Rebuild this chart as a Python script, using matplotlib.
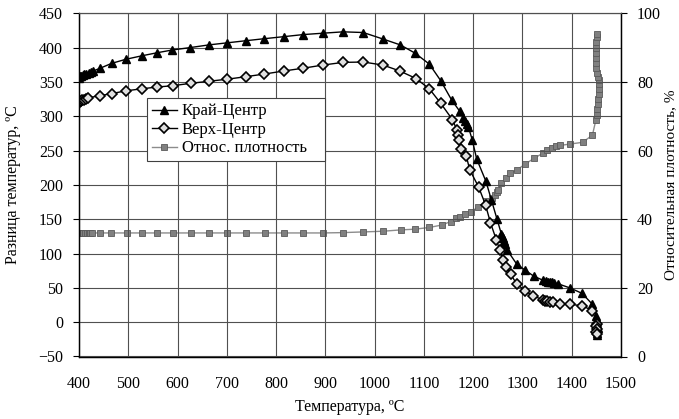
import matplotlib
matplotlib.use("Agg")
import matplotlib.pyplot as plt
from matplotlib.lines import Line2D

# ---- data ----
edge_x = [400, 402, 405, 408, 411, 415, 420, 425, 429, 443, 466, 495, 527, 559, 589, 625, 664, 701, 738, 776,
          816, 855, 895, 936, 977, 1017, 1052, 1082, 1111, 1134, 1156, 1173, 1180, 1184, 1187, 1190, 1198, 1207,
          1226, 1237, 1248, 1257, 1259, 1261, 1263, 1265, 1269, 1288, 1305, 1323, 1342, 1347, 1352, 1356, 1360,
          1365, 1372, 1396, 1421, 1442, 1450, 1452, 1451, 1453, 1450, 1452, 1451]
edge_y = [356, 358, 359, 360, 361, 362, 363, 364, 366, 370, 377, 383, 388, 392.6, 396.5, 400, 404, 407, 410, 413,
          416, 419, 421, 423, 422, 412.5, 404, 392, 376, 352, 324, 307, 298, 293, 289, 285, 266, 238,
          205, 178, 151, 129, 126, 122, 118, 114, 105, 85, 76, 67, 61, 60, 59, 58.5, 58,
          57, 56, 50, 42, 26, 9, 3, -3, -8, -12, -16, -19]

top_x = [399, 401, 404, 407, 410, 414, 419, 443, 466, 495, 527, 559, 590, 627, 664, 701, 738, 776, 816, 855,
         895, 936, 977, 1017, 1051, 1084, 1111, 1134, 1158, 1167, 1170, 1172, 1176, 1186, 1193, 1211, 1225, 1235,
         1247, 1254, 1261, 1266, 1276, 1288, 1305, 1322, 1341, 1345, 1350, 1355, 1362, 1376, 1396, 1421, 1442,
         1451, 1450, 1452, 1450, 1451]
top_y = [320, 321, 322, 323, 324, 325.5, 327, 330, 333, 337, 340, 342.6, 344.5, 348, 351, 354, 357.6, 361.5, 366, 370,
         374.6, 378.5, 379, 374.6, 366, 355, 340, 319, 295, 280, 273, 265, 253, 242, 222, 197, 171, 145,
         120, 105, 90, 81, 70, 56, 46, 38, 33, 31.5, 30.5, 30, 29, 27, 26, 24, 17,
         -2, -6, -10, -14, -17]

dens_x = [400, 405, 409, 413, 416, 420, 423, 427, 443, 465, 497, 527, 558, 590, 627, 664, 701, 738, 777, 816,
          855, 895, 936, 977, 1017, 1054, 1082, 1111, 1136, 1154, 1166, 1173, 1183, 1195, 1210, 1226, 1239, 1244,
          1248, 1251, 1257, 1266, 1274, 1288, 1305, 1323, 1341, 1349, 1359, 1368, 1377, 1396, 1422, 1442,
          1449, 1451, 1452, 1453, 1454, 1455, 1456, 1456, 1455, 1453, 1451, 1450, 1449, 1449, 1449, 1450, 1450,
          1451, 1451]
dens_y = [36, 36, 36, 36, 36, 36, 36, 36, 36, 36, 36, 36, 36, 36, 36, 36, 36, 36, 36, 36,
          36, 36, 36.1, 36.3, 36.5, 36.9, 37.1, 37.6, 38.3, 39.3, 40.3, 40.7, 41.4, 42.2, 43.5, 45.3, 46.3, 47.2,
          47.8, 48.5, 50.5, 51.9, 53.4, 54.3, 56, 57.7, 59.2, 60.2, 60.8, 61.2, 61.5, 61.9, 62.4, 64.5,
          68.9, 70.5, 72, 73.5, 75, 76.5, 78, 79.5, 80.5, 81.5, 82.5, 84, 85.5, 87, 88.5, 90, 91.5,
          93, 94]

xticks = list(range(400, 1501, 100))
yticks_left = list(range(-50, 451, 50))
yticks_right = list(range(0, 101, 20))

labels = ["Край-Центр", "Верх-Центр", "Относ. плотность"]

plt.rcParams['font.family'] = ['Liberation Serif', 'DejaVu Serif']
plt.rcParams['font.size'] = 11.5

fig = plt.figure(figsize=(6.79, 4.19), dpi=100)
ax = fig.add_axes([79 / 679, 1 - 356.5 / 419, (621 - 79) / 679, (356.5 - 13.3) / 419])
ax2 = ax.twinx()

ax.set_xlim(400, 1500)
ax.set_ylim(-50, 450)
ax2.set_ylim(0, 100)
ax.set_xticks(xticks)
ax.set_yticks(yticks_left)
ax2.set_yticks(yticks_right)

ax.grid(True, color='#505050', linewidth=0.8)
ax.set_axisbelow(True)
ax2.set_zorder(1)
ax.set_zorder(2)
ax.patch.set_visible(False)

ax.tick_params(axis='x', length=0, pad=14)
ax.tick_params(axis='y', direction='out', length=4.5, width=0.8, pad=7)
ax2.tick_params(axis='y', direction='out', length=4.5, width=0.8, pad=7)

ax.spines['top'].set_color('#505050')
ax2.spines['top'].set_color('#505050')
for a in (ax, ax2):
    for s in ['left', 'right', 'bottom']:
        a.spines[s].set_linewidth(0.9)

ax2.plot(dens_x, dens_y, color='#8c8c8c', linewidth=1.0, marker='s', markersize=4.8,
         markerfacecolor='#808080', markeredgecolor='#5a5a5a', markeredgewidth=0.6)
ax.plot(edge_x, edge_y, color='black', linewidth=1.0, marker='^', markersize=5.8,
        markerfacecolor='black', markeredgecolor='black')
ax.plot(top_x, top_y, color='black', linewidth=1.0, marker='D', markersize=5.2,
        markerfacecolor='#e0e0e0', markeredgecolor='black', markeredgewidth=1.2)

ax.set_xlabel("Температура, ºC", labelpad=5)
ax.set_ylabel("Разница температур, ºC", labelpad=12)
ax2.set_ylabel("Относительная плотность, %", labelpad=2, fontsize=11)

handles = [
    Line2D([], [], color='black', lw=1.0, marker='^', markersize=5.8, markerfacecolor='black'),
    Line2D([], [], color='black', lw=1.0, marker='D', markersize=5.2, markerfacecolor='#e0e0e0',
           markeredgecolor='black', markeredgewidth=1.2),
    Line2D([], [], color='#8c8c8c', lw=1.0, marker='s', markersize=4.8, markerfacecolor='#808080',
           markeredgecolor='#5a5a5a', markeredgewidth=0.6),
]
leg = ax.legend(handles, labels, loc='upper left', bbox_to_anchor=(0.125, 0.555, 0.329, 0.197),
                mode='expand', fancybox=False, framealpha=1, edgecolor='#404040', fontsize=12,
                handlelength=1.5, handletextpad=0.3, borderpad=0.3, labelspacing=0.15, borderaxespad=0)
leg.get_frame().set_linewidth(0.8)

fig.savefig("out.png", dpi=100)
